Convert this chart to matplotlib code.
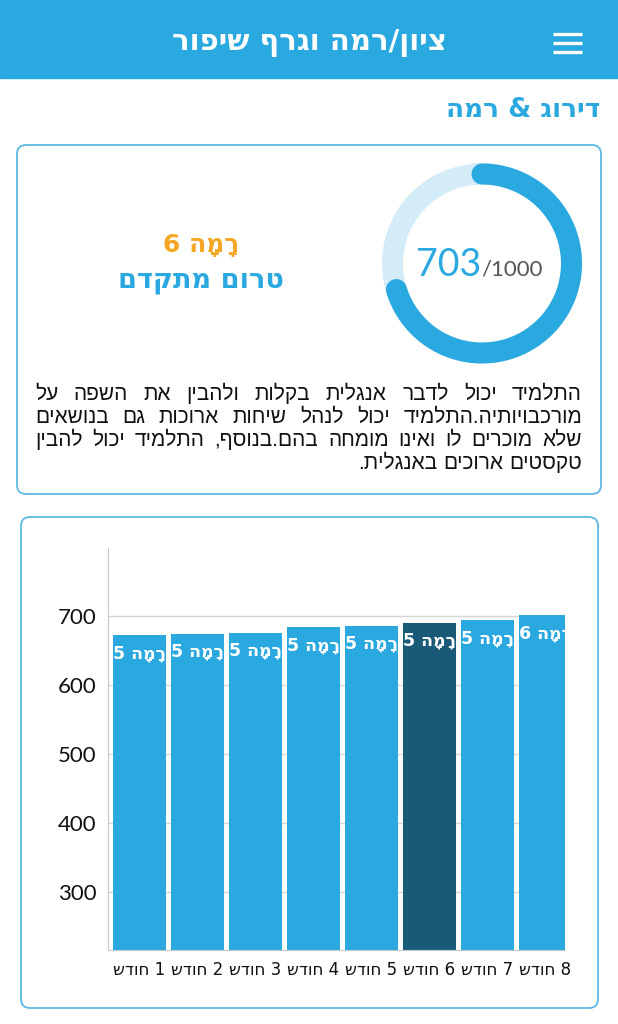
import matplotlib
matplotlib.use('Agg')
import matplotlib.pyplot as plt
import numpy as np
from matplotlib.patches import FancyBboxPatch, Rectangle

# ---------------- data ----------------
title = 'ציון/רמה וגרף שיפור'
section = 'דירוג & רמה'
score = 703
total = 1000
level_name = 'רָמָה 6'
level_desc = 'טרום מתקדם'
paragraph_lines = [
    'התלמיד יכול לדבר אנגלית בקלות ולהבין את השפה על',
    'מורכבויותיה.התלמיד יכול לנהל שיחות ארוכות גם בנושאים',
    'שלא מוכרים לו ואינו מומחה בהם.בנוסף, התלמיד יכול להבין',
    'טקסטים ארוכים באנגלית.',
]
months = ['חודש 1', 'חודש 2', 'חודש 3', 'חודש 4', 'חודש 5', 'חודש 6', 'חודש 7', 'חודש 8']
month_scores = [672, 674, 676, 684, 686, 690, 694, 701]
month_levels = ['רָמָה 5', 'רָמָה 5', 'רָמָה 5', 'רָמָה 5', 'רָמָה 5', 'רָמָה 5', 'רָמָה 5', 'רָמָה 6']
highlight = 5
yticks = [300, 400, 500, 600, 700]

BLUE = '#2AA8E0'
DARK = '#185A78'
ORANGE = '#F5A623'
HEB = ['DejaVu Sans']
NUM = ['Lato', 'DejaVu Sans']
BODY = ['Liberation Sans', 'DejaVu Sans']


def vis(s):
    """Display order for right-to-left text (matplotlib lays glyphs out left to right).
    Marks end up just before their letter, where these fonts draw them over it."""
    return s[::-1]


def vis_ltr(label):
    word, num = label.rsplit(' ', 1)
    return vis(word) + ' ' + num


fig = plt.figure(figsize=(6.18, 10.24), dpi=100)
bg = fig.add_axes([0, 0, 1, 1])
bg.set_xlim(0, 618)
bg.set_ylim(1024, 0)
bg.axis('off')

# header
bg.add_patch(Rectangle((0, 0), 618, 78, color=BLUE, zorder=1))
bg.text(309, 43, vis(title), color='white', fontsize=21, fontweight='bold',
        ha='center', va='center', family=HEB, zorder=3)
for yy in (34, 43, 52):
    bg.plot([553, 582], [yy, yy], color='white', lw=2.4, solid_capstyle='butt', zorder=3)

bg.text(600, 110, vis(section), color=BLUE, fontsize=19, fontweight='bold',
        ha='right', va='center', family=HEB)

# cards
for (x0, y0, w, h) in [(17, 145, 584, 349), (21, 517, 577, 491)]:
    bg.add_patch(FancyBboxPatch((x0, y0), w, h, boxstyle='round,pad=0,rounding_size=9',
                                fc='white', ec='#5DB9E3', lw=1.3, zorder=1))

# donut
cx, cy, r = 482, 263.5, 89.5
ring_lw = 21 * 0.72
tt = np.linspace(0, 2 * np.pi, 400)
bg.plot(cx + r * np.sin(tt), cy - r * np.cos(tt), color='#D4ECF8', lw=ring_lw, zorder=2)
ts = np.linspace(0, 2 * np.pi * score / total, 300)
bg.plot(cx + r * np.sin(ts), cy - r * np.cos(ts), color=BLUE, lw=ring_lw,
        solid_capstyle='round', zorder=3)
bg.text(481, 276, str(score), color=BLUE, fontsize=27, ha='right', va='baseline',
        family=NUM, zorder=4)
bg.text(481, 276, '/' + str(total), color='#555555', fontsize=16, ha='left', va='baseline',
        family=NUM, zorder=4)

bg.text(201, 245, vis(level_name), color=ORANGE, fontsize=18, fontweight='bold',
        ha='center', va='center', family=HEB, zorder=4)
bg.text(201, 281, vis(level_desc), color=BLUE, fontsize=19.5, fontweight='bold',
        ha='center', va='center', family=HEB, zorder=4)

# justified paragraph
renderer = fig.canvas.get_renderer()
body_kw = dict(fontsize=15, family=BODY, color='#111111')


def text_w(s):
    t = bg.text(0, 0, s, **body_kw)
    w = t.get_window_extent(renderer).width
    t.remove()
    return w


right_edge, left_edge = 582, 35
baselines = [400, 423, 446, 469]
for i, line in enumerate(paragraph_lines):
    words = line.split(' ')
    ws = [text_w(vis(wd)) for wd in words]
    if i < len(paragraph_lines) - 1:
        gap = (right_edge - left_edge - sum(ws)) / (len(words) - 1)
    else:
        gap = text_w('a b') - text_w('ab')
    xr = right_edge
    for wd, w in zip(words, ws):
        bg.text(xr, baselines[i], vis(wd), ha='right', va='baseline', zorder=4, **body_kw)
        xr -= w + gap

# bar chart
ax = fig.add_axes([108 / 618, 74 / 1024, 457 / 618, 402 / 1024])
xs = np.arange(len(months))
colors = [DARK if i == highlight else BLUE for i in range(len(months))]
ax.bar(xs, month_scores, width=0.914, color=colors, zorder=2)
ax.set_xlim(-0.543, 7.336)
ax.set_ylim(216, 798.6)
ax.set_yticks(yticks)
ax.set_yticklabels([str(v) for v in yticks], family=NUM, fontsize=16, color='#111111')
ax.set_xticks(xs)
ax.set_xticklabels([vis_ltr(m) for m in months], family=HEB, fontsize=12, color='#111111')
ax.yaxis.grid(True, color='#d6d6d6', lw=1)
ax.set_axisbelow(True)
for s in ('top', 'right'):
    ax.spines[s].set_visible(False)
for s in ('left', 'bottom'):
    ax.spines[s].set_color('#c8c8c8')
ax.tick_params(axis='y', length=0, pad=8)
ax.tick_params(axis='x', length=0, pad=8)
for i, (v, lab) in enumerate(zip(month_scores, month_levels)):
    t = ax.annotate(vis(lab), xy=(i, v), xytext=(0, -18), textcoords='offset pixels',
                    ha='center', va='center', color='white', fontsize=12.5,
                    fontweight='bold', family=HEB, zorder=5)
    t.set_clip_on(True)

fig.savefig('out.png', dpi=100)
